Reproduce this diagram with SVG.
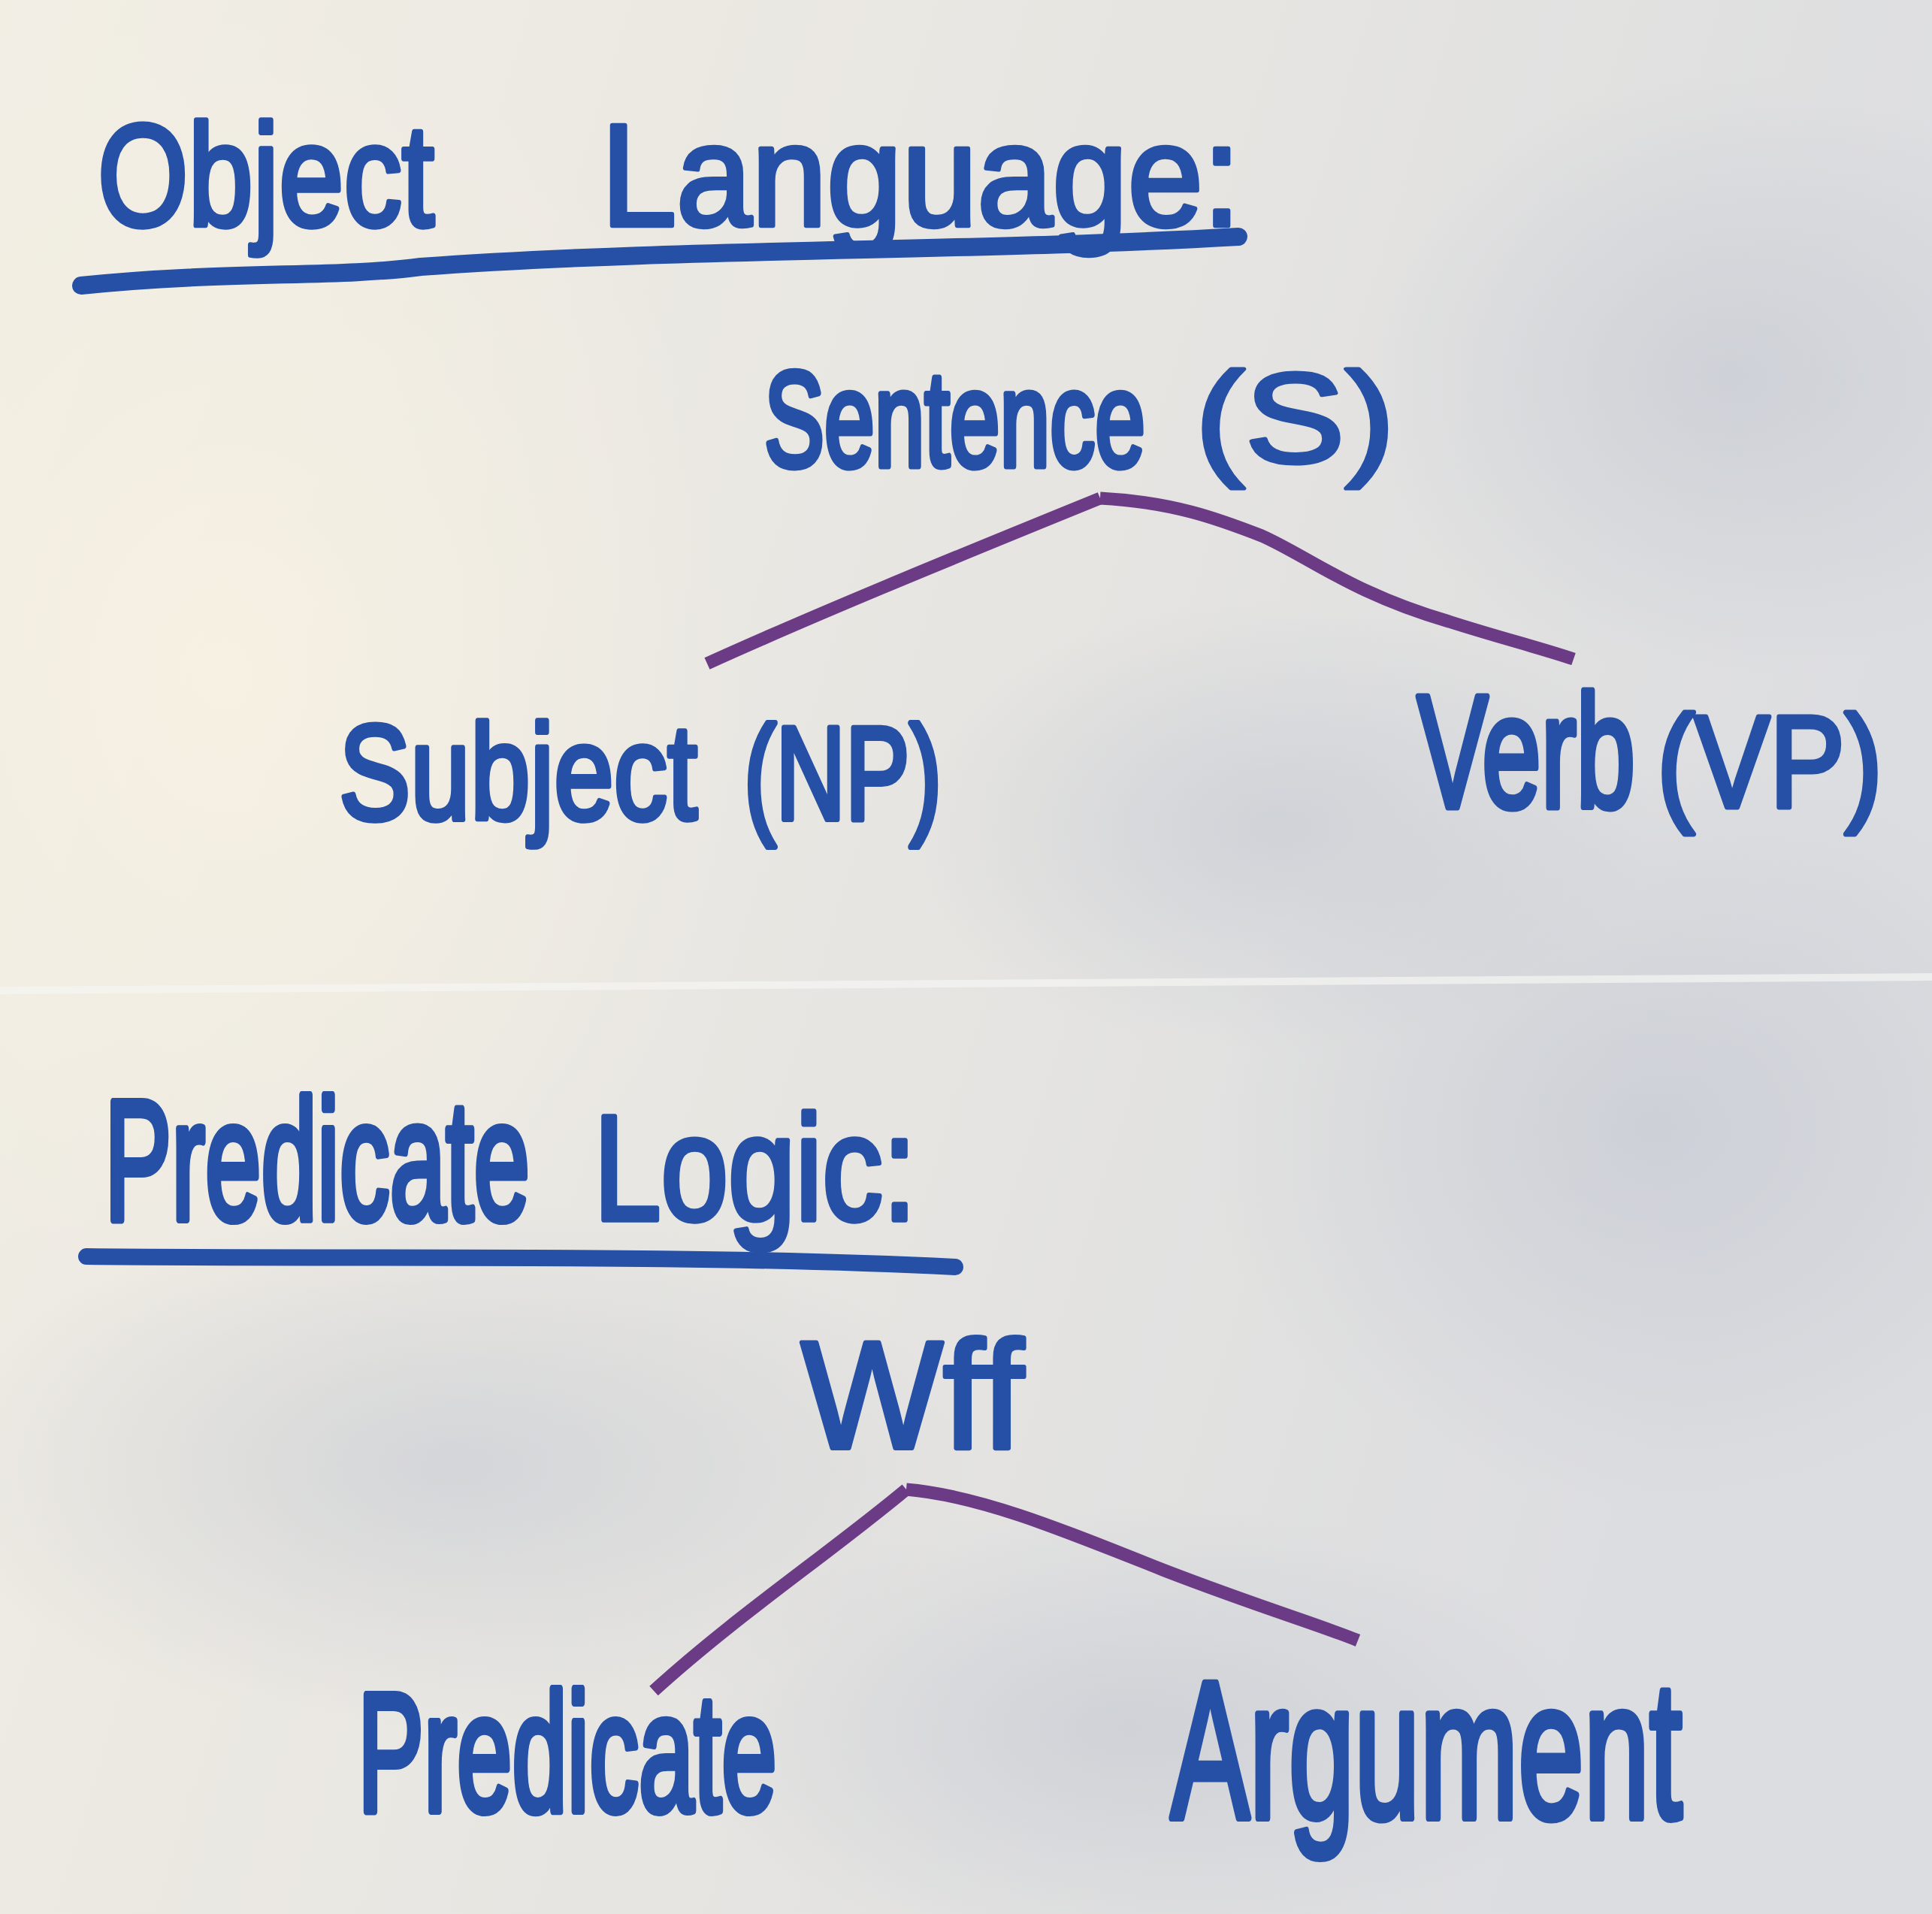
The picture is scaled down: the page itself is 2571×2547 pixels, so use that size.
<svg xmlns="http://www.w3.org/2000/svg" width="2571" height="2547" viewBox="0 0 2571 2547">
<defs>
<linearGradient id="bg" x1="0" y1="0" x2="1" y2="0.3">
<stop offset="0" stop-color="#f2eee4"/>
<stop offset="0.45" stop-color="#e9e7e2"/>
<stop offset="1" stop-color="#dcdde0"/>
</linearGradient>
<radialGradient id="blot" cx="0.5" cy="0.5" r="0.5">
<stop offset="0" stop-color="#b9bfcc" stop-opacity="0.45"/>
<stop offset="1" stop-color="#b9bfcc" stop-opacity="0"/>
</radialGradient>
<radialGradient id="warm" cx="0.5" cy="0.5" r="0.5">
<stop offset="0" stop-color="#f7f1e2" stop-opacity="0.9"/>
<stop offset="1" stop-color="#f7f1e2" stop-opacity="0"/>
</radialGradient>
<style>
.t{font-family:"Liberation Sans","DejaVu Sans",sans-serif;fill:#2550a6;stroke:#2550a6;stroke-width:6;stroke-linejoin:round;stroke-linecap:round}
.u{fill:none;stroke:#2550a6;stroke-linecap:round;stroke-linejoin:round}
.c{fill:none;stroke:#6c3b86;stroke-width:17;stroke-linecap:butt;stroke-linejoin:round}
</style>
</defs>
<rect width="2571" height="2547" fill="url(#bg)"/>
<ellipse cx="300" cy="900" rx="700" ry="900" fill="url(#warm)"/>
<ellipse cx="2300" cy="500" rx="500" ry="400" fill="url(#blot)"/>
<ellipse cx="2200" cy="1500" rx="600" ry="500" fill="url(#blot)"/>
<ellipse cx="1700" cy="1100" rx="500" ry="300" fill="url(#blot)"/>
<ellipse cx="600" cy="1950" rx="700" ry="350" fill="url(#blot)"/>
<ellipse cx="1500" cy="2300" rx="600" ry="300" fill="url(#blot)"/>
<line x1="0" y1="1318" x2="2571" y2="1300" stroke="#f6f6f4" stroke-width="10" opacity="0.7"/>

<g id="title-object-language">
<text class="t" transform="translate(130,300) scale(1,1.24)" font-size="155">Object</text>
<text class="t" transform="translate(800,300) scale(1,1.07)" font-size="180">Language:</text>
<path class="u" stroke-width="24" d="M108,380 C300,360 450,370 560,355 C900,330 1300,335 1648,315"/>
</g>
<g id="node-sentence">
<text class="t" transform="translate(1017,620) scale(1,1.5)" font-size="120">Sentence</text>
<text class="t" transform="translate(1590,615) scale(1,0.85)" font-size="200">(S)</text>
</g>
<g id="node-subject">
<text class="t" transform="translate(451,1090) scale(1,1.26)" font-size="143">Subject</text>
<text class="t" transform="translate(990,1090) scale(1,1.37)" font-size="128">(NP)</text>
</g>
<g id="node-verb">
<text class="t" transform="translate(1886,1074) scale(1,1.52)" font-size="141">Verb</text>
<text class="t" transform="translate(2205,1074) scale(1,1.16)" font-size="150">(VP)</text>
</g>
<g id="title-predicate-logic">
<text class="t" transform="translate(139,1623) scale(1,1.7)" font-size="134">Predicate</text>
<text class="t" transform="translate(790,1623) scale(1,1.23)" font-size="161">Logic:</text>
<path class="u" stroke-width="22" d="M115,1672 C500,1676 900,1668 1271,1686"/>
</g>
<g id="node-wff">
<text class="t" transform="translate(1066,1927) scale(1,1.02)" font-size="200">Wff</text>
</g>
<g id="node-predicate">
<text class="t" transform="translate(476,2410) scale(1,1.7)" font-size="132">Predicate</text>
</g>
<g id="node-argument">
<text class="t" transform="translate(1558,2419) scale(1,1.66)" font-size="157">Argument</text>
</g>

<g id="connectors">
<path class="c" d="M941,883 C1080,820 1250,750 1464,663"/>
<path class="c" d="M1464,663 C1560,668 1620,690 1679,713 C1740,740 1800,790 1928,827 C2000,850 2050,862 2094,877"/>
<path class="c" d="M870,2250 C980,2150 1100,2070 1206,1982"/>
<path class="c" d="M1206,1982 C1300,1990 1400,2030 1550,2090 C1680,2140 1750,2160 1807,2183"/>
</g>
</svg>
